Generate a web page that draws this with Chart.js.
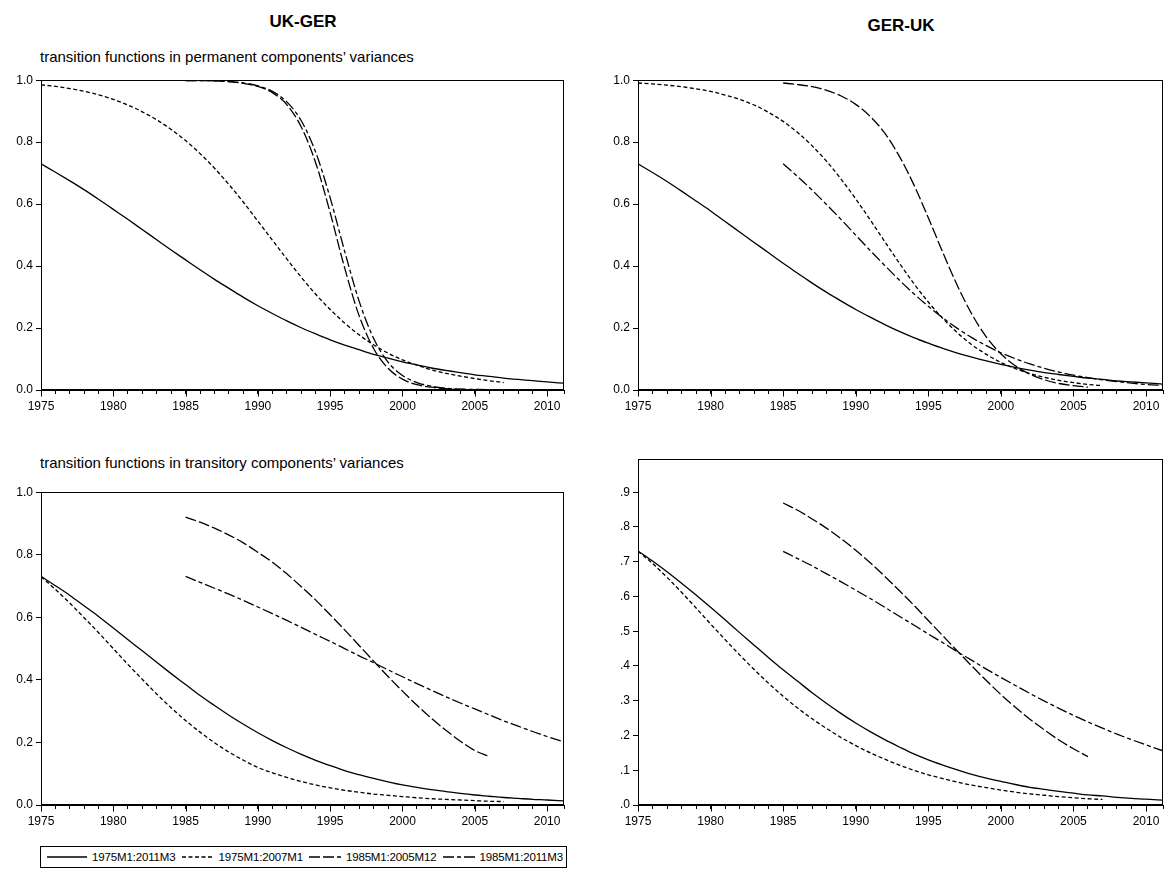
<!DOCTYPE html>
<html><head><meta charset="utf-8">
<script src="https://cdn.jsdelivr.net/npm/chart.js@4.4.1/dist/chart.umd.min.js"></script>
<style>
body{margin:0;background:#fff;width:1169px;height:879px;position:relative;overflow:hidden;font-family:"Liberation Sans",Arial,Helvetica,sans-serif;color:#000}
.t{position:absolute;white-space:nowrap;line-height:1}
.panel{position:absolute}
#legend{position:absolute;left:40px;top:846px;width:527px;height:22px;border:1px solid #000;display:flex;align-items:center;font-size:11.5px;letter-spacing:-0.15px;box-sizing:border-box;padding-left:6px;white-space:nowrap}
#legend .it{display:flex;align-items:center;margin-right:6px}
#legend svg{margin-right:5px}
</style></head><body>

<div class="t" style="left:303px;top:13px;transform:translateX(-50%);font-weight:bold;font-size:17px">UK-GER</div>
<div class="t" style="left:901px;top:17px;transform:translateX(-50%);font-weight:bold;font-size:17px">GER-UK</div>
<div class="t" style="left:40px;top:49px;font-size:15px">transition functions in permanent components’ variances</div>
<div class="t" style="left:40px;top:455px;font-size:15px">transition functions in transitory components’ variances</div>

<div class="panel" id="p1"><canvas id="c1"></canvas></div>
<div class="panel" id="p2"><canvas id="c2"></canvas></div>
<div class="panel" id="p3"><canvas id="c3"></canvas></div>
<div class="panel" id="p4"><canvas id="c4"></canvas></div>

<div id="legend"></div>

<script>
// ---- data ----
const YEARS = [1975,1976,1977,1978,1979,1980,1981,1982,1983,1984,1985,1986,1987,1988,1989,1990,1991,1992,1993,1994,1995,1996,1997,1998,1999,2000,2001,2002,2003,2004,2005,2006,2007,2008,2009,2010,2011.17];
const SERIES_NAMES = ["1975M1:2011M3","1975M1:2007M1","1985M1:2005M12","1985M1:2011M3"];
const MAJOR_YEARS = [1975,1980,1985,1990,1995,2000,2005,2010];

// UK-GER, permanent components
const UKGER_PERM_1 = [0.730,0.703,0.675,0.646,0.615,0.583,0.551,0.518,0.485,0.452,0.420,0.388,0.357,0.328,0.299,0.272,0.247,0.223,0.201,0.181,0.162,0.145,0.130,0.115,0.103,0.091,0.081,0.071,0.063,0.056,0.049,0.044,0.038,0.034,0.030,0.026,0.022];
const UKGER_PERM_2 = [0.985,0.980,0.973,0.964,0.953,0.938,0.920,0.898,0.872,0.841,0.805,0.763,0.716,0.663,0.606,0.545,0.484,0.423,0.364,0.309,0.260,0.216,0.178,0.146,0.119,0.097,0.080,0.065,0.054,0.045,0.037,0.030,0.024,null,null,null,null];
const UKGER_PERM_3 = [null,null,null,null,null,null,null,null,null,null,0.999,0.999,0.998,0.995,0.990,0.980,0.960,0.921,0.849,0.733,0.572,0.394,0.240,0.134,0.070,0.035,0.017,0.009,0.004,0.002,0.001,0.001,null,null,null,null,null];
const UKGER_PERM_4 = [null,null,null,null,null,null,null,null,null,null,0.999,0.999,0.998,0.996,0.991,0.982,0.964,0.930,0.869,0.767,0.620,0.448,0.287,0.167,0.090,0.047,0.024,0.012,0.006,0.003,0.002,0.001,0.001,0.000,0.000,0.000,0.000];

// GER-UK, permanent components
const GERUK_PERM_1 = [0.730,0.702,0.673,0.642,0.610,0.578,0.544,0.510,0.476,0.443,0.409,0.377,0.345,0.315,0.287,0.260,0.235,0.211,0.189,0.169,0.151,0.134,0.119,0.106,0.094,0.083,0.073,0.064,0.056,0.050,0.044,0.038,0.034,0.029,0.026,0.023,0.019];
const GERUK_PERM_2 = [0.991,0.988,0.984,0.979,0.972,0.964,0.952,0.938,0.920,0.896,0.867,0.831,0.788,0.738,0.680,0.617,0.549,0.479,0.410,0.344,0.284,0.231,0.185,0.146,0.115,0.089,0.069,0.053,0.041,0.031,0.024,0.018,0.014,null,null,null,null];
const GERUK_PERM_3 = [null,null,null,null,null,null,null,null,null,null,0.991,0.986,0.979,0.967,0.949,0.922,0.883,0.829,0.755,0.663,0.556,0.444,0.337,0.245,0.171,0.117,0.078,0.051,0.033,0.021,0.014,0.009,null,null,null,null,null];
const GERUK_PERM_4 = [null,null,null,null,null,null,null,null,null,null,0.730,0.689,0.645,0.598,0.550,0.500,0.450,0.402,0.355,0.311,0.270,0.233,0.199,0.169,0.143,0.120,0.101,0.084,0.070,0.058,0.048,0.040,0.033,0.027,0.022,0.018,0.015];

// UK-GER, transitory components
const UKGER_TRAN_1 = [0.731,0.701,0.670,0.636,0.602,0.566,0.529,0.493,0.456,0.420,0.385,0.350,0.318,0.287,0.258,0.231,0.206,0.183,0.162,0.143,0.126,0.110,0.097,0.085,0.074,0.064,0.056,0.049,0.043,0.037,0.032,0.028,0.024,0.021,0.018,0.016,0.013];
const UKGER_TRAN_2 = [0.730,0.689,0.645,0.598,0.550,0.500,0.450,0.402,0.355,0.311,0.270,0.233,0.199,0.169,0.143,0.120,0.103,0.088,0.075,0.064,0.055,0.047,0.041,0.035,0.031,0.027,0.023,0.020,0.018,0.016,0.014,0.012,0.011,null,null,null,null];
const UKGER_TRAN_3 = [null,null,null,null,null,null,null,null,null,null,0.920,0.904,0.885,0.863,0.838,0.808,0.776,0.739,0.698,0.655,0.608,0.560,0.510,0.460,0.411,0.364,0.319,0.277,0.239,0.204,0.174,0.155,null,null,null,null,null];
const UKGER_TRAN_4 = [null,null,null,null,null,null,null,null,null,null,0.731,0.712,0.693,0.674,0.654,0.633,0.612,0.590,0.568,0.545,0.523,0.500,0.477,0.455,0.432,0.410,0.388,0.367,0.346,0.326,0.307,0.288,0.269,0.252,0.235,0.219,0.202];

// GER-UK, transitory components
const GERUK_TRAN_1 = [0.731,0.702,0.671,0.638,0.604,0.569,0.533,0.496,0.460,0.424,0.389,0.356,0.323,0.292,0.263,0.236,0.211,0.188,0.167,0.147,0.130,0.115,0.101,0.088,0.077,0.068,0.059,0.051,0.045,0.039,0.034,0.029,0.026,0.022,0.019,0.017,0.014];
const GERUK_TRAN_2 = [0.730,0.695,0.655,0.612,0.567,0.521,0.476,0.432,0.390,0.350,0.313,0.279,0.248,0.220,0.194,0.171,0.150,0.132,0.115,0.100,0.087,0.076,0.066,0.057,0.050,0.043,0.037,0.032,0.028,0.024,0.021,0.018,0.016,null,null,null,null];
const GERUK_TRAN_3 = [null,null,null,null,null,null,null,null,null,null,0.869,0.848,0.823,0.796,0.766,0.733,0.697,0.658,0.617,0.575,0.531,0.487,0.443,0.400,0.358,0.318,0.281,0.247,0.216,0.187,0.162,0.139,null,null,null,null,null];
const GERUK_TRAN_4 = [null,null,null,null,null,null,null,null,null,null,0.730,0.709,0.688,0.665,0.642,0.618,0.594,0.569,0.543,0.518,0.492,0.467,0.441,0.416,0.391,0.367,0.344,0.321,0.299,0.278,0.258,0.239,0.221,0.204,0.188,0.173,0.156];

// ---- styles ----
const DASHES = [[], [4,2.5], [11,3], [11,3,4,3]];
const LINE_W = 1.3;

function toXY(arr){ return YEARS.map((x,i)=>({x:x,y:arr[i]})).filter(p=>p.y!==null); }

const framePlugin = {
  id:'frame',
  afterDraw(chart){
    const ctx = chart.ctx, a = chart.chartArea, xs = chart.scales.x;
    ctx.save();
    ctx.strokeStyle = '#000'; ctx.lineWidth = 1;
    const L = Math.round(a.left)+0.5, T = Math.round(a.top)+0.5, R = Math.round(a.right)-0.5, B = Math.round(a.bottom)-0.5;
    ctx.strokeRect(L, T, R-L, B-T);
    MAJOR_YEARS.forEach(v=>{
      const px = Math.round(xs.getPixelForValue(v))+0.5;
      ctx.beginPath(); ctx.moveTo(px, B); ctx.lineTo(px, B+7); ctx.stroke();
    });
    ctx.restore();
  }
};

function isStep(v, step){ const r = Math.round(v/step)*step; return Math.abs(v-r) < 1e-6; }

function makeChart(id, box, seriesList, yMax, yStep, fmt){
  const holder = document.getElementById('p'+id);
  const padR = 3, padT = 8, yW = 40, xH = 30;
  const W = box.R - box.L + yW + padR, H = box.B - box.T + padT + xH;
  holder.style.left = (box.L - yW) + 'px';
  holder.style.top = (box.T - padT) + 'px';
  holder.style.width = W + 'px'; holder.style.height = H + 'px';
  const cv = document.getElementById('c'+id);
  cv.width = W; cv.height = H; cv.style.width = W+'px'; cv.style.height = H+'px';
  new Chart(cv, {
    type:'line',
    data:{ datasets: seriesList.map((s,i)=>({
      label: SERIES_NAMES[i], data: toXY(s), borderColor:'#000', borderWidth: LINE_W,
      borderDash: DASHES[i], pointRadius:0, fill:false, cubicInterpolationMode:'monotone', spanGaps:false
    }))},
    options:{
      responsive:false, animation:false, devicePixelRatio:1,
      layout:{padding:{top:padT, right:padR, left:0, bottom:0}},
      plugins:{legend:{display:false}, tooltip:{enabled:false}},
      scales:{
        x:{ type:'linear', min:1975, max:2011.17,
            afterFit(s){ s.height = xH; },
            ticks:{ stepSize:1, autoSkip:false, maxRotation:0, padding:5, color:'#000',
                    font:{family:'"Liberation Sans", Arial, sans-serif', size:12},
                    callback:(v)=> (Math.abs(v % 5) < 1e-6 ? String(v) : '') },
            grid:{ display:true, drawOnChartArea:false, drawTicks:true, tickLength:4, tickColor:'#000', color:'#000' },
            border:{ display:true, color:'#000', width:1 } },
        y:{ min:0, max:yMax,
            afterFit(s){ s.width = yW; },
            ticks:{ stepSize:yStep, padding:3, color:'#000',
                    font:{family:'"Liberation Sans", Arial, sans-serif', size:12},
                    callback:(v)=> isStep(v, yStep) ? fmt(v) : '' },
            grid:{ display:true, drawOnChartArea:false, drawTicks:true, tickLength:5, color:'#000',
                   tickColor:(c)=> (c.tick && isStep(c.tick.value, yStep)) ? '#000' : 'rgba(0,0,0,0)' },
            border:{ display:true, color:'#000', width:1 } }
      }
    },
    plugins:[framePlugin]
  });
}

const fmtA = v => v.toFixed(1);
const fmtB = v => v.toFixed(1).replace(/^0/, '');

makeChart(1, {L:41, T:78, R:566, B:390}, [UKGER_PERM_1, UKGER_PERM_2, UKGER_PERM_3, UKGER_PERM_4], 1.0, 0.2, fmtA);
makeChart(2, {L:638, T:78, R:1165, B:390}, [GERUK_PERM_1, GERUK_PERM_2, GERUK_PERM_3, GERUK_PERM_4], 1.0, 0.2, fmtA);
makeChart(3, {L:41, T:490, R:566, B:805}, [UKGER_TRAN_1, UKGER_TRAN_2, UKGER_TRAN_3, UKGER_TRAN_4], 1.0, 0.2, fmtA);
makeChart(4, {L:638, T:457, R:1165, B:805}, [GERUK_TRAN_1, GERUK_TRAN_2, GERUK_TRAN_3, GERUK_TRAN_4], 0.995, 0.1, fmtB);

// ---- legend (HTML text with line swatches) ----
const SW = [40, 32, 32, 32];
const lg = document.getElementById('legend');
SERIES_NAMES.forEach((name,i)=>{
  const it = document.createElement('div'); it.className='it';
  const ns='http://www.w3.org/2000/svg';
  const svg = document.createElementNS(ns,'svg'); svg.setAttribute('width',SW[i]); svg.setAttribute('height',6);
  const ln = document.createElementNS(ns,'line');
  ln.setAttribute('x1',0); ln.setAttribute('y1',3); ln.setAttribute('x2',SW[i]); ln.setAttribute('y2',3);
  ln.setAttribute('stroke','#000'); ln.setAttribute('stroke-width',LINE_W);
  if (DASHES[i].length) ln.setAttribute('stroke-dasharray', DASHES[i].join(' '));
  svg.appendChild(ln); it.appendChild(svg);
  const sp = document.createElement('span'); sp.textContent = name; it.appendChild(sp);
  lg.appendChild(it);
});
</script>
</body></html>
